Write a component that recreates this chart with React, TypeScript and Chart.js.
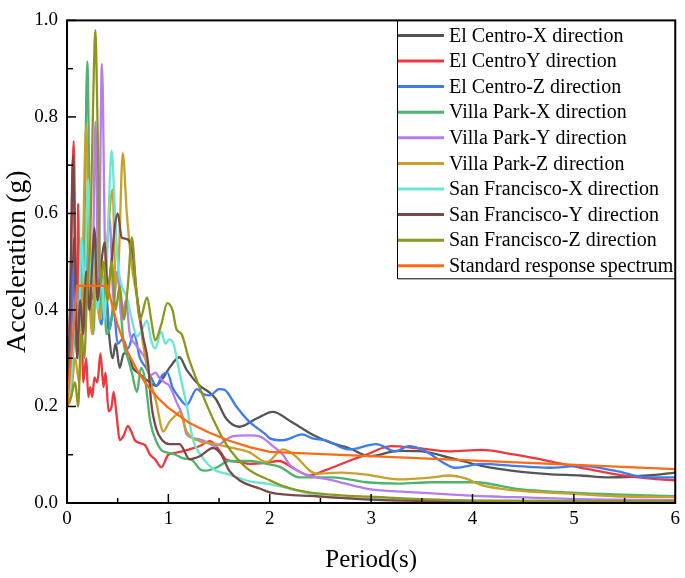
import { useEffect, useRef } from "react";
import { Chart, registerables } from "chart.js";

Chart.register(...registerables);

type Pt = [number, number];

const seriesNames = [
  "El Centro-X direction",
  "El CentroY direction",
  "El Centro-Z direction",
  "Villa Park-X direction",
  "Villa Park-Y direction",
  "Villa Park-Z direction",
  "San Francisco-X direction",
  "San Francisco-Y direction",
  "San Francisco-Z direction",
  "Standard response spectrum",
];

const seriesColors = [
  "#555555",
  "#f0383c",
  "#3d7cf0",
  "#4cb46c",
  "#b67cf0",
  "#c9a02a",
  "#6ae6d4",
  "#7a4848",
  "#8e961e",
  "#ff6a14",
];

const elCentroX: Pt[] = [
  [0, 0.2], [0.04, 0.3], [0.07, 0.55], [0.1, 0.38], [0.13, 0.5], [0.16, 0.4], [0.2, 0.6], [0.23, 0.42],
  [0.27, 0.45], [0.3, 0.55], [0.33, 0.4], [0.37, 0.47], [0.41, 0.36], [0.45, 0.3], [0.48, 0.33], [0.52, 0.28],
  [0.56, 0.31], [0.6, 0.31], [0.65, 0.28], [0.7, 0.27], [0.78, 0.256], [0.88, 0.243], [0.95, 0.26], [1.01, 0.28],
  [1.11, 0.302], [1.18, 0.276], [1.31, 0.243], [1.4, 0.23], [1.47, 0.215], [1.57, 0.175], [1.7, 0.158], [1.87, 0.175],
  [2.03, 0.189], [2.2, 0.17], [2.42, 0.142], [2.6, 0.125], [2.78, 0.114], [2.98, 0.097], [3.27, 0.108], [3.5, 0.107],
  [3.77, 0.094], [4.09, 0.077], [4.42, 0.066], [4.75, 0.06], [5.07, 0.057], [5.34, 0.053], [5.73, 0.057], [6, 0.063],
];

const elCentroY: Pt[] = [
  [0, 0.2], [0.03, 0.4], [0.066, 0.75], [0.085, 0.45], [0.1, 0.3], [0.11, 0.62], [0.125, 0.35], [0.14, 0.45],
  [0.16, 0.25], [0.19, 0.3], [0.21, 0.22], [0.23, 0.24], [0.25, 0.22], [0.27, 0.26], [0.3, 0.25], [0.33, 0.31],
  [0.36, 0.24], [0.38, 0.27], [0.41, 0.19], [0.44, 0.2], [0.46, 0.23], [0.49, 0.18], [0.52, 0.13], [0.56, 0.14],
  [0.6, 0.16], [0.63, 0.15], [0.67, 0.13], [0.72, 0.124], [0.77, 0.12], [0.82, 0.1], [0.87, 0.09], [0.93, 0.074],
  [1.0, 0.1], [1.07, 0.104], [1.14, 0.107], [1.22, 0.112], [1.31, 0.118], [1.41, 0.128], [1.5, 0.11], [1.57, 0.09],
  [1.7, 0.085], [1.8, 0.081], [1.95, 0.083], [2.09, 0.087], [2.25, 0.07], [2.39, 0.057], [2.55, 0.068], [2.78, 0.087],
  [2.95, 0.1], [3.11, 0.114], [3.2, 0.118], [3.44, 0.114], [3.77, 0.107], [4.09, 0.11], [4.42, 0.1], [4.75, 0.087],
  [5.07, 0.073], [5.4, 0.06], [5.73, 0.051], [6, 0.047],
];

const elCentroZ: Pt[] = [
  [0, 0.2], [0.04, 0.3], [0.07, 0.5], [0.1, 0.32], [0.13, 0.45], [0.16, 0.38], [0.19, 0.55], [0.22, 0.4],
  [0.26, 0.5], [0.3, 0.42], [0.34, 0.37], [0.38, 0.45], [0.42, 0.36], [0.46, 0.4], [0.5, 0.33], [0.55, 0.34],
  [0.6, 0.32], [0.66, 0.35], [0.72, 0.3], [0.78, 0.28], [0.83, 0.26], [0.88, 0.243], [0.94, 0.265], [0.99, 0.27],
  [1.04, 0.24], [1.1, 0.22], [1.18, 0.203], [1.28, 0.236], [1.35, 0.225], [1.41, 0.223], [1.5, 0.236], [1.55, 0.235],
  [1.67, 0.2], [1.8, 0.168], [1.96, 0.142], [2.0, 0.134], [2.13, 0.13], [2.32, 0.142], [2.42, 0.134], [2.55, 0.13],
  [2.78, 0.111], [3.05, 0.122], [3.24, 0.107], [3.37, 0.118], [3.54, 0.107], [3.7, 0.085], [3.83, 0.073], [4.09, 0.081],
  [4.42, 0.077], [4.75, 0.073], [5.07, 0.077], [5.4, 0.067], [5.73, 0.053], [6, 0.053],
];

const villaParkX: Pt[] = [
  [0, 0.2], [0.04, 0.25], [0.08, 0.35], [0.12, 0.3], [0.15, 0.45], [0.17, 0.55], [0.2, 0.915], [0.23, 0.5],
  [0.26, 0.35], [0.29, 0.5], [0.32, 0.4], [0.36, 0.45], [0.39, 0.35], [0.42, 0.36], [0.46, 0.42], [0.5, 0.48],
  [0.53, 0.4], [0.56, 0.33], [0.6, 0.3], [0.64, 0.27], [0.69, 0.23], [0.73, 0.28], [0.77, 0.256], [0.82, 0.17],
  [0.88, 0.128], [0.93, 0.11], [1.0, 0.104], [1.07, 0.1], [1.14, 0.093], [1.24, 0.088], [1.31, 0.07], [1.37, 0.067],
  [1.47, 0.073], [1.6, 0.087], [1.8, 0.087], [1.97, 0.081], [2.1, 0.075], [2.29, 0.053], [2.62, 0.053], [2.95, 0.043],
  [3.27, 0.04], [3.6, 0.043], [4.03, 0.043], [4.42, 0.03], [4.92, 0.022], [5.4, 0.018], [6, 0.014],
];

const villaParkY: Pt[] = [
  [0, 0.2], [0.05, 0.3], [0.09, 0.45], [0.12, 0.35], [0.15, 0.5], [0.19, 0.4], [0.22, 0.55], [0.25, 0.45],
  [0.28, 0.79], [0.31, 0.45], [0.345, 0.91], [0.38, 0.5], [0.42, 0.59], [0.46, 0.42], [0.5, 0.48], [0.54, 0.38],
  [0.58, 0.42], [0.62, 0.35], [0.67, 0.33], [0.72, 0.316], [0.77, 0.3], [0.82, 0.264], [0.87, 0.27], [0.91, 0.26],
  [0.96, 0.25], [1.01, 0.243], [1.08, 0.209], [1.14, 0.18], [1.18, 0.142], [1.31, 0.132], [1.47, 0.118], [1.55, 0.128],
  [1.63, 0.138], [1.8, 0.14], [1.9, 0.138], [2.03, 0.118], [2.13, 0.1], [2.19, 0.081], [2.33, 0.061], [2.62, 0.047],
  [2.95, 0.03], [3.44, 0.022], [3.93, 0.016], [4.42, 0.012], [5.07, 0.008], [6, 0.006],
];

const villaParkZ: Pt[] = [
  [0, 0.2], [0.04, 0.22], [0.08, 0.3], [0.12, 0.25], [0.15, 0.45], [0.19, 0.785], [0.22, 0.45], [0.25, 0.35],
  [0.28, 0.5], [0.32, 0.38], [0.36, 0.45], [0.4, 0.55], [0.45, 0.65], [0.48, 0.45], [0.51, 0.5], [0.55, 0.725],
  [0.59, 0.6], [0.64, 0.49], [0.69, 0.426], [0.75, 0.33], [0.82, 0.256], [0.88, 0.209], [0.95, 0.148], [1.01, 0.168],
  [1.09, 0.185], [1.11, 0.189], [1.18, 0.148], [1.31, 0.128], [1.47, 0.122], [1.63, 0.114], [1.8, 0.105], [1.97, 0.085],
  [2.13, 0.111], [2.23, 0.101], [2.46, 0.061], [2.71, 0.063], [2.95, 0.059], [3.27, 0.049], [3.6, 0.053], [3.77, 0.057],
  [3.93, 0.051], [4.09, 0.037], [4.42, 0.026], [4.92, 0.02], [5.4, 0.014], [6, 0.012],
];

const sanFranciscoX: Pt[] = [
  [0, 0.2], [0.04, 0.25], [0.08, 0.4], [0.11, 0.3], [0.14, 0.55], [0.17, 0.45], [0.21, 0.67], [0.24, 0.45],
  [0.27, 0.55], [0.3, 0.4], [0.34, 0.48], [0.37, 0.38], [0.41, 0.6], [0.44, 0.73], [0.47, 0.62], [0.5, 0.5],
  [0.54, 0.45], [0.59, 0.426], [0.64, 0.38], [0.69, 0.345], [0.74, 0.36], [0.79, 0.378], [0.83, 0.337], [0.87, 0.32],
  [0.93, 0.355], [0.97, 0.33], [1.01, 0.339], [1.05, 0.33], [1.11, 0.27], [1.18, 0.203], [1.24, 0.134], [1.34, 0.093],
  [1.47, 0.067], [1.57, 0.061], [1.8, 0.045], [1.97, 0.04], [2.19, 0.03], [2.46, 0.016], [3.11, 0.008], [4, 0.005],
  [5, 0.004], [6, 0.003],
];

const sanFranciscoY: Pt[] = [
  [0, 0.2], [0.03, 0.4], [0.06, 0.72], [0.08, 0.5], [0.1, 0.3], [0.13, 0.42], [0.16, 0.35], [0.19, 0.48],
  [0.22, 0.4], [0.25, 0.5], [0.27, 0.57], [0.3, 0.42], [0.34, 0.5], [0.37, 0.54], [0.4, 0.45], [0.44, 0.5],
  [0.47, 0.57], [0.5, 0.6], [0.54, 0.55], [0.57, 0.548], [0.64, 0.527], [0.69, 0.43], [0.75, 0.345], [0.8, 0.29],
  [0.83, 0.209], [0.88, 0.154], [0.94, 0.13], [1.01, 0.122], [1.11, 0.122], [1.21, 0.091], [1.31, 0.097], [1.44, 0.114],
  [1.52, 0.101], [1.6, 0.067], [1.7, 0.047], [1.9, 0.03], [2.0, 0.022], [2.46, 0.014], [3.11, 0.006], [4, 0.004],
  [5, 0.003], [6, 0.003],
];

const sanFranciscoZ: Pt[] = [
  [0, 0.2], [0.04, 0.22], [0.08, 0.25], [0.11, 0.2], [0.14, 0.35], [0.17, 0.3], [0.2, 0.45], [0.23, 0.55],
  [0.26, 0.85], [0.28, 0.98], [0.3, 0.8], [0.33, 0.45], [0.36, 0.5], [0.4, 0.42], [0.44, 0.5], [0.48, 0.4],
  [0.52, 0.45], [0.56, 0.38], [0.6, 0.45], [0.64, 0.55], [0.68, 0.45], [0.72, 0.38], [0.79, 0.426], [0.83, 0.38],
  [0.87, 0.337], [0.93, 0.37], [0.99, 0.414], [1.04, 0.4], [1.08, 0.36], [1.13, 0.35], [1.2, 0.3], [1.34, 0.223],
  [1.45, 0.17], [1.57, 0.122], [1.77, 0.073], [2.0, 0.047], [2.13, 0.035], [2.39, 0.022], [2.7, 0.016], [3, 0.013],
  [3.5, 0.008], [4, 0.005], [5, 0.004], [6, 0.003],
];

const standardSpectrum: Pt[] = [
  [0, 0.2], [0.1, 0.45], [0.4, 0.45], [0.45, 0.405], [0.5, 0.368], [0.6, 0.312], [0.7, 0.272], [0.8, 0.241],
  [0.9, 0.217], [1.0, 0.197], [1.2, 0.167], [1.4, 0.146], [1.6, 0.129], [1.8, 0.116], [2.0, 0.106], [6.0, 0.07],
];

const allSeries: Pt[][] = [
  elCentroX, elCentroY, elCentroZ, villaParkX, villaParkY, villaParkZ,
  sanFranciscoX, sanFranciscoY, sanFranciscoZ, standardSpectrum,
];

const xTickMarks = [0, 0.5, 1, 1.5, 2, 2.5, 3, 3.5, 4, 4.5, 5, 5.5, 6];
const yTickMarks = [0, 0.1, 0.2, 0.3, 0.4, 0.5, 0.6, 0.7, 0.8, 0.9, 1.0];

const FONT = "'Liberation Serif', 'Times New Roman', serif";

const framePlugin = {
  id: "frameAndLegend",
  afterDraw(chart: any) {
    const { ctx, chartArea, scales } = chart;
    const { left, right, top, bottom } = chartArea;
    ctx.save();
    // ticks (inward)
    ctx.strokeStyle = "#000";
    ctx.lineWidth = 1.5;
    xTickMarks.forEach((v) => {
      const px = scales.x.getPixelForValue(v);
      const len = Number.isInteger(v) ? 9 : 5;
      ctx.beginPath();
      ctx.moveTo(px, bottom);
      ctx.lineTo(px, bottom - len);
      ctx.stroke();
    });
    yTickMarks.forEach((v, i) => {
      const py = scales.y.getPixelForValue(v);
      const len = i % 2 === 0 ? 9 : 6;
      ctx.beginPath();
      ctx.moveTo(left, py);
      ctx.lineTo(left + len, py);
      ctx.stroke();
    });
    // legend
    const lx = 397;
    const rowH = 25.6;
    const firstY = top + 15;
    const boxBottom = firstY + rowH * 9 + 13;
    ctx.fillStyle = "#fff";
    ctx.fillRect(lx, top, right - lx, boxBottom - top);
    ctx.strokeStyle = "#000";
    ctx.lineWidth = 1;
    ctx.beginPath();
    ctx.moveTo(lx + 0.5, top);
    ctx.lineTo(lx + 0.5, boxBottom);
    ctx.lineTo(right, boxBottom);
    ctx.stroke();
    ctx.font = `20px ${FONT}`;
    ctx.textBaseline = "middle";
    ctx.textAlign = "left";
    chart.data.datasets.forEach((ds: any, i: number) => {
      const y = firstY + i * rowH;
      ctx.strokeStyle = ds.borderColor;
      ctx.lineWidth = 3;
      ctx.beginPath();
      ctx.moveTo(lx + 1, y);
      ctx.lineTo(lx + 47, y);
      ctx.stroke();
      ctx.fillStyle = "#000";
      ctx.fillText(ds.label, lx + 52, y + 1);
    });
    // frame
    ctx.strokeStyle = "#000";
    ctx.lineWidth = 2;
    ctx.strokeRect(left, top, right - left, bottom - top);
    ctx.restore();
  },
};

export default function App() {
  const ref = useRef<HTMLCanvasElement>(null);
  useEffect(() => {
    const datasets = allSeries.map((pts, i) => ({
      label: seriesNames[i],
      data: pts.map(([x, y]) => ({ x, y })),
      borderColor: seriesColors[i],
      backgroundColor: seriesColors[i],
      borderWidth: 2.3,
      pointRadius: 0,
      fill: false,
      order: 10 - i,
      tension: i === 9 ? 0 : 0.35,
      cubicInterpolationMode: i === 9 ? "default" : "monotone",
    }));
    const chart = new Chart(ref.current!, {
      type: "line",
      data: { datasets } as any,
      plugins: [framePlugin],
      options: {
        animation: false,
        responsive: true,
        maintainAspectRatio: false,
        layout: { padding: { top: 10, right: 8, left: 0, bottom: 0 } },
        plugins: { legend: { display: false }, tooltip: { enabled: false } },
        scales: {
          x: {
            type: "linear",
            min: 0,
            max: 6,
            grid: { display: false, drawTicks: false },
            border: { display: false },
            ticks: {
              stepSize: 1,
              color: "#000",
              padding: 5,
              maxRotation: 0,
              font: { family: FONT, size: 19 },
            },
            title: {
              display: true,
              text: "Period(s)",
              color: "#000",
              font: { family: FONT, size: 25 },
              padding: { top: 0, bottom: 3 },
            },
            afterFit: (s: any) => {
              s.height = 75;
            },
          },
          y: {
            type: "linear",
            min: 0,
            max: 1.0,
            grid: { display: false, drawTicks: false },
            border: { display: false },
            ticks: {
              stepSize: 0.2,
              color: "#000",
              padding: 9,
              font: { family: FONT, size: 19 },
              callback: (v: any) => Number(v).toFixed(1),
            },
            title: {
              display: true,
              text: "Acceleration (g)",
              color: "#000",
              font: { family: FONT, size: 28 },
              padding: { top: 1, bottom: 0 },
            },
            afterFit: (s: any) => {
              s.width = 67;
            },
          },
        },
      },
    });
    return () => chart.destroy();
  }, []);
  return (
    <div style={{ position: "absolute", left: 0, top: 0, width: 685, height: 578, background: "#fff" }}>
      <canvas ref={ref} />
    </div>
  );
}
